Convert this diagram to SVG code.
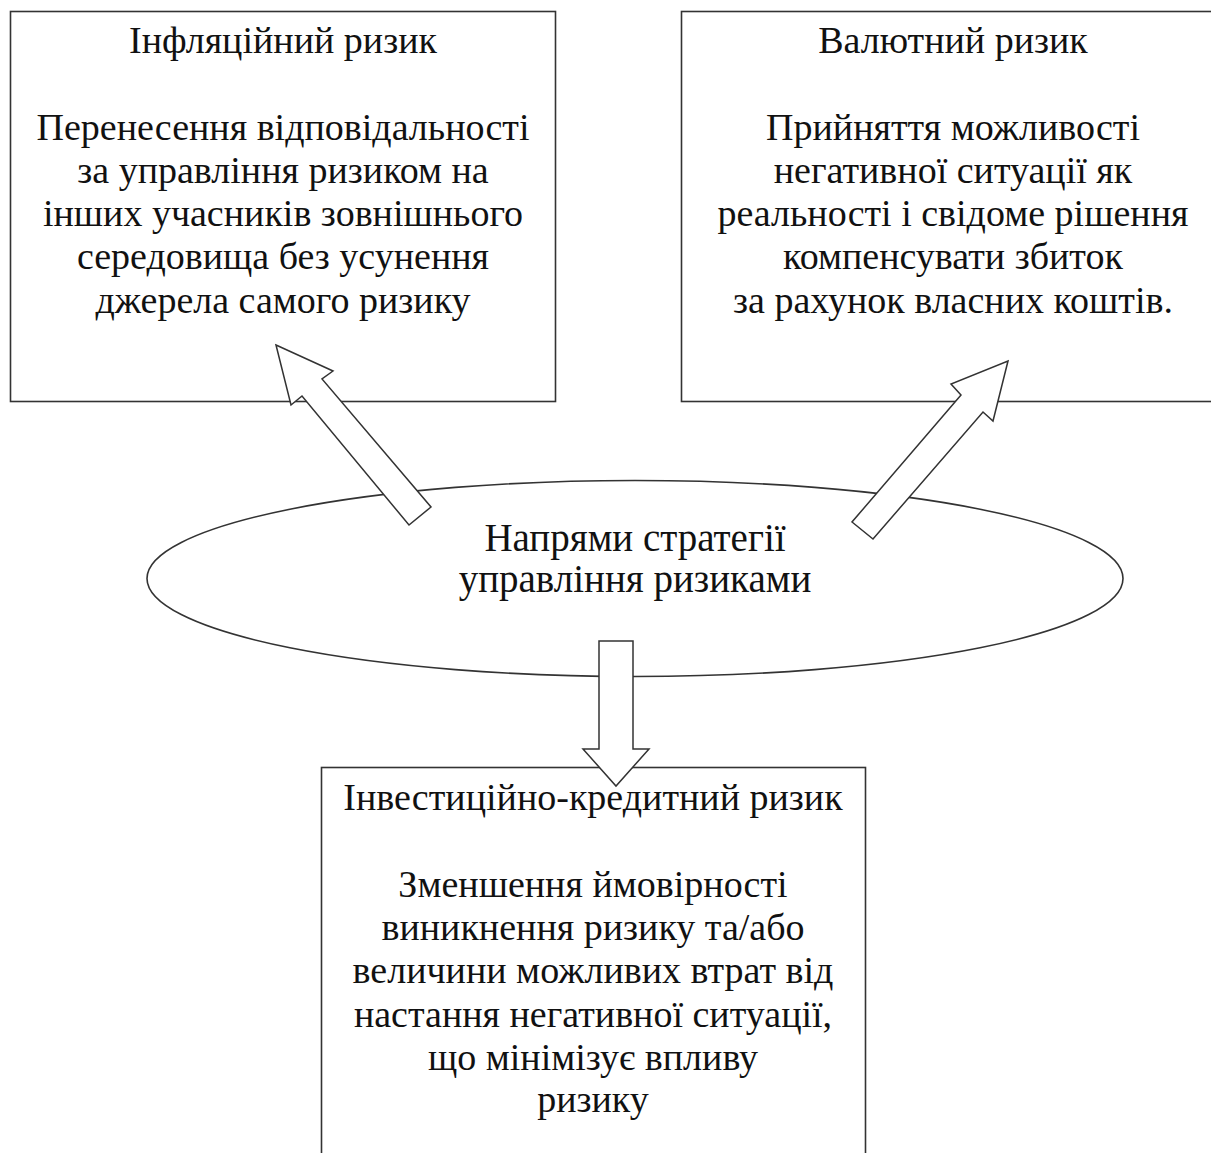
<svg xmlns="http://www.w3.org/2000/svg" width="1211" height="1153" viewBox="0 0 1211 1153">
<style>
.box{fill:#fff;stroke:#333;stroke-width:1.6}
.arr{fill:#fff;stroke:#333;stroke-width:1.5;stroke-linejoin:miter}
text{font-family:"Liberation Serif","Times New Roman",serif;font-size:38px;fill:#111;text-anchor:middle}
.ell{font-size:39px}
</style>
<rect width="1211" height="1153" fill="#fff"/>
<g id="node-inflation">
<rect class="box" x="10.5" y="11.5" width="545" height="390"/>
<text x="283" y="53">Інфляційний ризик</text>
<text x="283" y="140">Перенесення відповідальності</text>
<text x="283" y="183">за управління ризиком на</text>
<text x="283" y="226">інших учасників зовнішнього</text>
<text x="283" y="269">середовища без усунення</text>
<text x="283" y="313">джерела самого ризику</text>
</g>
<g id="node-currency">
<rect class="box" x="681.5" y="11.5" width="545" height="390"/>
<text x="953" y="53">Валютний ризик</text>
<text x="953" y="140">Прийняття можливості</text>
<text x="953" y="183">негативної ситуації як</text>
<text x="953" y="226">реальності і свідоме рішення</text>
<text x="953" y="269">компенсувати збиток</text>
<text x="953" y="313">за рахунок власних коштів.</text>
</g>
<g id="node-investment">
<rect class="box" x="321.5" y="767.5" width="544" height="400"/>
<text x="593" y="810">Інвестиційно-кредитний ризик</text>
<text x="593" y="897">Зменшення ймовірності</text>
<text x="593" y="940">виникнення ризику та/або</text>
<text x="593" y="983">величини можливих втрат від</text>
<text x="593" y="1027">настання негативної ситуації,</text>
<text x="593" y="1070">що мінімізує впливу</text>
<text x="593" y="1112">ризику</text>
</g>
<g id="node-center">
<ellipse class="box" cx="635" cy="578.5" rx="488" ry="98"/>
<text class="ell" x="635" y="551">Напрями стратегії</text>
<text class="ell" x="635" y="592">управління ризиками</text>
</g>
<g id="connectors">
<polygon class="arr" points="276,345 333,371 322,379 431,507 409,525 302,396 291,405"/>
<polygon class="arr" points="1008,361 993,421 983,412 873,539 852,522 961,395 951,384"/>
<polygon class="arr" points="599,641 633,641 633,749 649,749 616,786 583,749 599,749"/>
</g>
</svg>
